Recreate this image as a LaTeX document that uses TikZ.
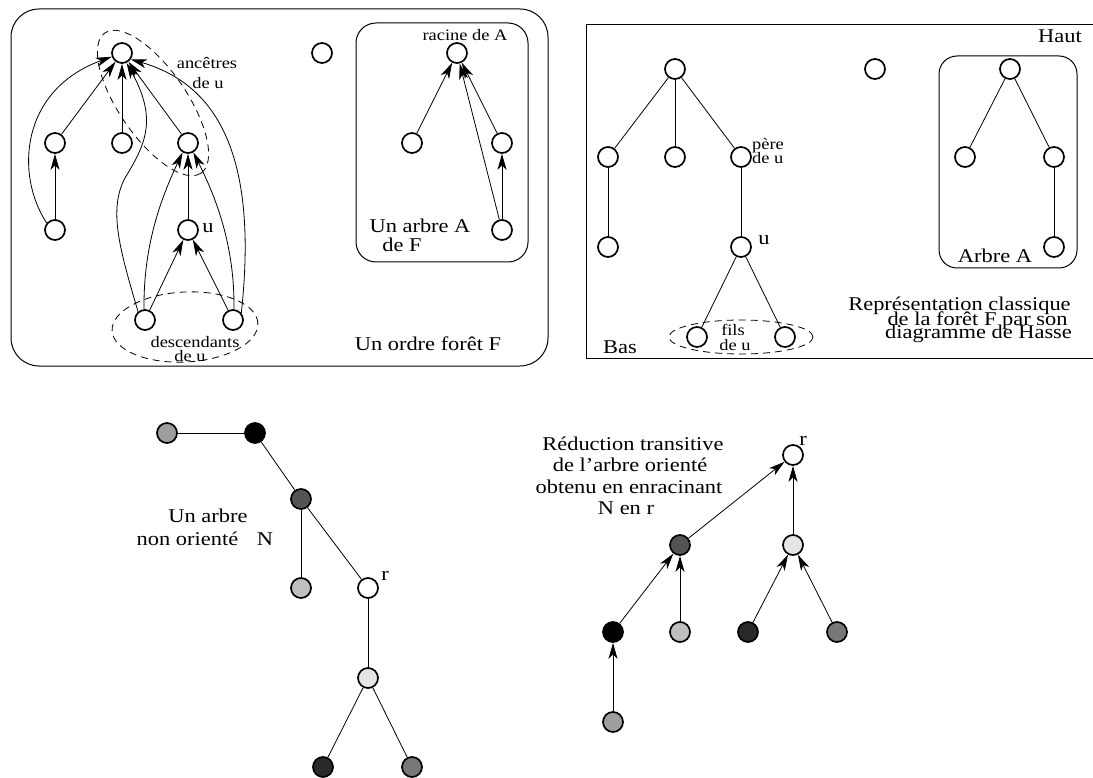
\documentclass[tikz,border=0pt]{standalone}
\usepackage{fontspec}
\setmainfont[FakeStretch=1.15]{Liberation Serif}
\usetikzlibrary{arrows.meta}
\definecolor{gA}{gray}{0.62}
\definecolor{gC}{gray}{0.33}
\definecolor{gD}{gray}{0.75}
\definecolor{gE}{gray}{0.9}
\definecolor{gF}{gray}{0.16}
\definecolor{gG}{gray}{0.47}
\begin{document}
\begin{tikzpicture}[x=1pt,y=-1pt,
  v/.style={circle, draw, line width=1.7pt, minimum size=20pt, inner sep=0pt},
  arr/.style={-{Stealth[length=16pt,width=9pt,inset=4.5pt]}, line width=0.8pt},
  ln/.style={line width=0.8pt},
  big/.style={font=\fontsize{19.5}{22}\selectfont, inner sep=0pt, anchor=base},
  small/.style={font=\fontsize{16}{18}\selectfont, inner sep=0pt, anchor=base},
  frame/.style={line width=1pt},
  dsh/.style={dash pattern=on 7pt off 5pt, line width=0.8pt}
]
\useasboundingbox (0,0) rectangle (1093,778);

% ---------- boxes ----------
\draw[frame, rounded corners=28pt] (11,9) rectangle (548,366);
\draw[frame, rounded corners=20pt] (356,23) rectangle (528,262);
\draw[frame] (586,25) rectangle (1100,358);
\draw[frame, rounded corners=18pt] (939,56) rectangle (1077,268);

% ---------- order forest F ----------
\node[v] (T) at (122,53) {};
\node[v] (LM) at (55,143) {};
\node[v] (MM) at (122,143) {};
\node[v] (P) at (188,143) {};
\node[v] (LB) at (55,230) {};
\node[v] (U) at (188,230) {};
\node[v] (D1) at (145,320) {};
\node[v] (D2) at (233,320) {};
\node[v] (ISO) at (322,53) {};

\draw[arr] (LB) -- (LM);
\draw[arr] (LM) -- (T);
\draw[arr] (MM) -- (T);
\draw[arr] (P) -- (T);
\draw[arr] (U) -- (P);
\draw[arr] (D1) -- (U);
\draw[arr] (D2) -- (U);
\draw[arr] (D1.95) .. controls (143,240) and (165,190) .. (P.240);
\draw[arr] (D2.85) .. controls (235,240) and (212,190) .. (P.300);
\draw[arr] (LB.140) .. controls (15,175) and (20,90) .. (T.200);
\draw[arr] (D1.130) .. controls (120,250) and (108,210) .. (125,178) .. controls (145,145) and (158,120) .. (T.295);
\draw[arr] (D2.40) .. controls (258,160) and (220,85) .. (T.324);

\draw[dsh, shift={(153,103)}, rotate=-55.6] (0,0) ellipse [x radius=85pt, y radius=34pt];
\draw[dsh, shift={(185,327)}, rotate=3] (0,0) ellipse [x radius=73pt, y radius=35pt];

\node[small] (anc1) at (207,69) {ancêtres};
\node[small] (anc2) at (208,89) {de u};
\node[small] (des1) at (195,347) {descendants};
\node[small] (des2) at (190,361) {de u};
\node[big] (ulab) at (208,233) {u};
\node[big] (ordre) at (428,350) {Un ordre forêt F};

% tree A inside F
\node[v] (R) at (457,53) {};
\node[v] (AL) at (412,143) {};
\node[v] (AR) at (502,143) {};
\node[v] (AB) at (502,230) {};
\draw[arr] (AL) -- (R);
\draw[arr] (AR) -- (R);
\draw[arr] (AB) -- (AR);
\draw[arr] (AB) -- (R);
\node[small] (rac) at (465,41) {racine de A};
\node[big] (ua1) at (420,233) {Un arbre A};
\node[big] (ua2) at (402,252) {de F};

% ---------- Hasse diagram ----------
\node[v] (H0) at (675,69) {};
\node[v] (HL) at (608,157) {};
\node[v] (HM) at (675,157) {};
\node[v] (HP) at (741,157) {};
\node[v] (HLL) at (608,247) {};
\node[v] (HU) at (741,247) {};
\node[v] (HF1) at (697,337) {};
\node[v] (HF2) at (785,337) {};
\node[v] (HISO) at (875,69) {};
\node[v] (HA0) at (1010,69) {};
\node[v] (HAL) at (965,157) {};
\node[v] (HAR) at (1054,157) {};
\node[v] (HAB) at (1054,247) {};
\draw[ln] (H0) -- (HL);
\draw[ln] (H0) -- (HM);
\draw[ln] (H0) -- (HP);
\draw[ln] (HL) -- (HLL);
\draw[ln] (HP) -- (HU);
\draw[ln] (HU) -- (HF1);
\draw[ln] (HU) -- (HF2);
\draw[ln] (HA0) -- (HAL);
\draw[ln] (HA0) -- (HAR);
\draw[ln] (HAR) -- (HAB);
\draw[dsh] (741,337) ellipse [x radius=72pt, y radius=17pt];

\node[big] (haut) at (1060,43) {Haut};
\node[small, anchor=base west] (pere1) at (752,150) {père};
\node[small, anchor=base west] (pere2) at (752,164) {de u};
\node[big] (hu) at (764,245) {u};
\node[small] (fils1) at (733,335) {fils};
\node[small] (fils2) at (735,350) {de u};
\node[big] (bas) at (620,353) {Bas};
\node[big] (arbA) at (995,262) {Arbre A};
\node[big] (rep1) at (959.5,311) {Représentation classique};
\node[big] (rep2) at (977.5,325) {de la forêt F par son};
\node[big] (rep3) at (978.5,338) {diagramme de Hasse};

% ---------- undirected tree N ----------
\node[v, fill=gA] (n1) at (167,433) {};
\node[v, fill=black] (n2) at (255,433) {};
\node[v, fill=gC] (n3) at (301,499) {};
\node[v, fill=gD] (n4) at (301,588) {};
\node[v, fill=white] (r1) at (368,588) {};
\node[v, fill=gE] (n5) at (368,678) {};
\node[v, fill=gF] (n6) at (323,767) {};
\node[v, fill=gG] (n7) at (412,767) {};
\draw[ln] (n1) -- (n2);
\draw[ln] (n2) -- (n3);
\draw[ln] (n3) -- (n4);
\draw[ln] (n3) -- (r1);
\draw[ln] (r1) -- (n5);
\draw[ln] (n5) -- (n6);
\draw[ln] (n5) -- (n7);
\node[big] (na1) at (208,522) {Un arbre};
\node[big] (na2) at (187.5,545) {non orienté};
\node[big] (nN) at (265,545) {N};
\node[big] (nr) at (385,580) {r};

% ---------- rooted tree ----------
\node[v, fill=white] (r2) at (793,455) {};
\node[v, fill=gC] (m3) at (680,545) {};
\node[v, fill=gE] (m5) at (793,545) {};
\node[v, fill=black] (m2) at (613,632) {};
\node[v, fill=gD] (m4) at (680,632) {};
\node[v, fill=gF] (m6) at (748,632) {};
\node[v, fill=gG] (m7) at (837,632) {};
\node[v, fill=gA] (m1) at (613,722) {};
\draw[arr] (m1) -- (m2);
\draw[arr] (m2) -- (m3);
\draw[arr] (m4) -- (m3);
\draw[arr] (m3) -- (r2);
\draw[arr] (m5) -- (r2);
\draw[arr] (m6) -- (m5);
\draw[arr] (m7) -- (m5);
\node[big] (red1) at (633,450) {Réduction transitive};
\node[big] (red2) at (630,471.5) {de l'arbre orienté};
\node[big] (red3) at (629,493) {obtenu en enracinant};
\node[big] (red4) at (626,514) {N en r};
\node[big] (rr) at (803,445) {r};
\end{tikzpicture}
\end{document}
